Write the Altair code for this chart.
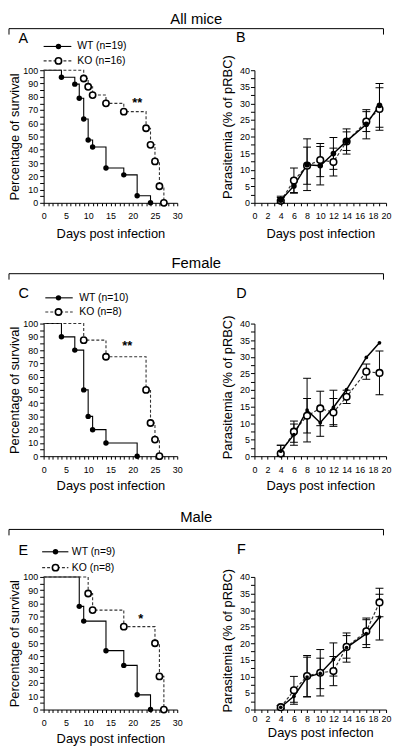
import altair as alt
import pandas as pd

FONT = "Liberation Sans"

# ---------------- Survival (Kaplan-Meier) data ----------------
A_WT_DAYS = [4, 7, 8, 9, 10, 11, 14, 18, 21, 24]
A_WT_SURV = [94.7, 89.5, 78.9, 63.2, 47.4, 42.1, 26.3, 21.1, 5.3, 0]
A_KO_DAYS = [9, 10, 11, 14, 18, 23, 24, 25, 26, 27]
A_KO_SURV = [93.75, 87.5, 81.25, 75, 68.75, 56.25, 43.75, 31.25, 12.5, 0]

C_WT_DAYS = [4, 7, 9, 10, 11, 14, 21]
C_WT_SURV = [90, 80, 50, 30, 20, 10, 0]
C_KO_DAYS = [9, 14, 23, 24, 25, 26]
C_KO_SURV = [87.5, 75, 50, 25, 12.5, 0]

E_WT_DAYS = [8, 9, 14, 18, 21, 24]
E_WT_SURV = [77.8, 66.7, 44.4, 33.3, 11.1, 0]
E_KO_DAYS = [10, 11, 18, 25, 26, 27]
E_KO_SURV = [87.5, 75, 62.5, 50, 25, 0]

A_LABELS = ["WT (n=19)", "KO (n=16)"]
C_LABELS = ["WT (n=10)", "KO (n=8)"]
E_LABELS = ["WT (n=9)", "KO (n=8)"]

# significance marks: text, day, percent
A_STAR = ["**", 21.0, 76.5]
C_STAR = ["**", 18.8, 84.5]
E_STAR = ["*", 21.8, 69.5]

# ---------------- Parasitemia data ----------------
PARA_DAYS = [4, 6, 8, 10, 12, 14, 17, 19]

B_WT_MEAN = [0.8, 5.1, 11.5, 11.2, 14.9, 18.6, 23.7, 29.4]
B_WT_SD = [1.2, 2.0, 7.8, 5.8, 4.8, 2.8, 4.4, 6.6]
B_KO_MEAN = [0.6, 6.7, 11.2, 12.9, 12.3, 18.5, 24.5, 28.3]
B_KO_SD = [1.0, 3.8, 5.6, 5.0, 4.2, 3.8, 3.0, 6.4]

D_WT_MEAN = [1.5, 6.5, 13.9, 10.1, 14.7, 20.1, 29.8, 34.2]
D_WT_SD = [1.8, 3.2, 9.6, 4.1, 5.2, 0, 0, 0]
D_KO_MEAN = [0.8, 7.4, 12.2, 14.4, 13.2, 17.9, 25.5, 25.1]
D_KO_SD = [2.5, 3.2, 5.2, 5.2, 4.2, 2.0, 2.3, 6.6]

F_WT_MEAN = [0.7, 4.0, 9.8, 10.9, 15.1, 18.7, 22.9, 27.9]
F_WT_SD = [0.5, 1.8, 6.0, 4.6, 5.0, 4.4, 4.2, 6.9]
F_KO_MEAN = [0.7, 5.8, 10.1, 11.1, 11.6, 18.9, 23.6, 32.3]
F_KO_SD = [0.5, 4.2, 6.2, 7.0, 4.4, 3.4, 4.0, 4.3]

HEADERS = ["All mice", "Female", "Male"]

SW, SH = 135, 134   # survival plot size
PW, PH = 133, 134   # parasitemia plot size
COL_GAP = 78
ROW_PITCH = 256     # nested flush rows have zero height, so spacing = row pitch


def one():
    return pd.DataFrame({"k": [0]})


def txt(s, x, y, size, align="left", baseline="alphabetic", weight="normal"):
    return alt.Chart(one()).mark_text(
        align=align, baseline=baseline, fontSize=size, font=FONT,
        fontWeight=weight, color="black"
    ).encode(x=alt.value(x), y=alt.value(y), text=alt.value(s))


def surv_axes(lab_pad, title_pad):
    x = alt.X("day:Q", scale=alt.Scale(domain=[0, 30], nice=False),
              axis=alt.Axis(values=list(range(0, 31)),
                            labelExpr="datum.value % 5 === 0 ? datum.label : ''",
                            title="Days post infection", tickSize=3,
                            labelPadding=lab_pad, titlePadding=title_pad,
                            labelFlush=False, labelOverlap=False))
    y = alt.Y("val:Q", scale=alt.Scale(domain=[0, 100], nice=False),
              axis=alt.Axis(values=list(range(0, 101, 5)),
                            labelExpr="datum.value % 10 === 0 ? datum.label : ''",
                            title="Percentage of survival", tickSize=4,
                            labelPadding=2, titlePadding=1,
                            labelFlush=False, labelOverlap=False))
    return x, y


def surv_panel(wt_days, wt_surv, ko_days, ko_surv, labels, star, letter,
               letter_y, header, header_y, bracket_y, legend_y, leg_x,
               lab_pad=6, title_pad=3):
    x, y = surv_axes(lab_pad, title_pad)
    wt = pd.DataFrame({"day": [0] + wt_days, "val": [100] + wt_surv})
    ko = pd.DataFrame({"day": [0] + ko_days, "val": [100] + ko_surv})
    wt_p = pd.DataFrame({"day": wt_days, "val": wt_surv})
    ko_p = pd.DataFrame({"day": ko_days, "val": ko_surv})
    st = pd.DataFrame({"day": [star[1]], "val": [star[2]], "t": [star[0]]})

    layers = [
        alt.Chart(wt).mark_line(interpolate="step-after", color="black",
                                strokeWidth=1.1).encode(x=x, y=y),
        alt.Chart(ko).mark_line(interpolate="step-after", color="#333333",
                                strokeWidth=1.1, strokeDash=[3, 2]).encode(x=x, y=y),
        alt.Chart(wt_p).mark_circle(color="black", size=30, opacity=1).encode(x=x, y=y),
        alt.Chart(ko_p).mark_circle(fill="white", stroke="black", strokeWidth=1.6,
                                    size=40, opacity=1).encode(x=x, y=y),
        alt.Chart(st).mark_text(fontSize=13, fontWeight="bold", font=FONT,
                                baseline="middle", dy=2).encode(x=x, y=y, text="t:N"),
    ]
    x0, x1, xm, xt = leg_x
    # legend
    layers += [
        alt.Chart(one()).mark_rule(color="black", strokeWidth=1.1).encode(
            x=alt.value(x0), x2=alt.value(x1), y=alt.value(legend_y[0])),
        alt.Chart(one()).mark_rule(color="#333333", strokeWidth=1.1, strokeDash=[3, 2]).encode(
            x=alt.value(x0), x2=alt.value(x1), y=alt.value(legend_y[1])),
        alt.Chart(one()).mark_circle(color="black", size=30, opacity=1).encode(
            x=alt.value(xm), y=alt.value(legend_y[0])),
        alt.Chart(one()).mark_circle(fill="white", stroke="black", strokeWidth=1.6,
                                     size=40, opacity=1).encode(
            x=alt.value(xm), y=alt.value(legend_y[1])),
        txt(labels[0], xt, legend_y[0], 10.5, baseline="middle"),
        txt(labels[1], xt, legend_y[1], 10.5, baseline="middle"),
    ]
    # panel letter
    layers.append(txt(letter, -25.3, letter_y, 14.5))
    # header and bracket
    bl, br = -35, 343.4
    layers += [
        txt(header, 154.2, header_y, 15, align="center"),
        alt.Chart(one()).mark_rule(color="black", strokeWidth=1).encode(
            x=alt.value(bl), x2=alt.value(br), y=alt.value(bracket_y)),
        alt.Chart(one()).mark_rule(color="black", strokeWidth=1).encode(
            x=alt.value(bl), y=alt.value(bracket_y), y2=alt.value(bracket_y + 6)),
        alt.Chart(one()).mark_rule(color="black", strokeWidth=1).encode(
            x=alt.value(br), y=alt.value(bracket_y), y2=alt.value(bracket_y + 6)),
    ]
    return alt.layer(*layers).properties(width=SW, height=SH)


def err_df(days, mean, sd):
    rows = [(d, max(m - s, 0), m + s) for d, m, s in zip(days, mean, sd) if s > 0]
    return pd.DataFrame(rows, columns=["day", "lo", "hi"])


def para_panel(wt_mean, wt_sd, ko_mean, ko_sd, wt_size, letter, letter_x,
               letter_y, xtitle, title_y, lab_pad=6, title_pad=3):
    xs = alt.Scale(domain=[0, 20], nice=False)
    ys = alt.Scale(domain=[0, 40], nice=False)
    x = alt.X("day:Q", scale=xs,
              axis=alt.Axis(values=list(range(0, 21)),
                            labelExpr="datum.value % 2 === 0 ? datum.label : ''",
                            title=xtitle, tickSize=3, labelPadding=lab_pad,
                            titlePadding=title_pad, labelFlush=False,
                            labelOverlap=False))
    yax = alt.Axis(values=[i * 2.5 for i in range(17)],
                   labelExpr="datum.value % 5 === 0 ? datum.label : ''",
                   title="Parasitemia (% of pRBC)", tickSize=4, labelPadding=1,
                   titlePadding=5, titleY=title_y, labelFlush=False,
                   labelOverlap=False)
    y = alt.Y("val:Q", scale=ys, axis=yax)
    ylo = alt.Y("lo:Q", scale=ys, axis=yax)
    yhi = alt.Y("hi:Q", scale=ys, axis=yax)

    wt = pd.DataFrame({"day": PARA_DAYS, "val": wt_mean})
    ko = pd.DataFrame({"day": PARA_DAYS, "val": ko_mean})
    err = pd.concat([err_df(PARA_DAYS, wt_mean, wt_sd),
                     err_df(PARA_DAYS, ko_mean, ko_sd)], ignore_index=True)

    layers = [
        alt.Chart(err).mark_rule(color="black", strokeWidth=1).encode(x=x, y=ylo, y2="hi:Q"),
        alt.Chart(err).mark_tick(orient="horizontal", color="black", size=8,
                                 thickness=1, opacity=1).encode(x=x, y=ylo),
        alt.Chart(err).mark_tick(orient="horizontal", color="black", size=8,
                                 thickness=1, opacity=1).encode(x=x, y=yhi),
        alt.Chart(ko).mark_line(color="#333333", strokeWidth=1.2,
                                strokeDash=[3, 2]).encode(x=x, y=y),
        alt.Chart(wt).mark_line(color="black", strokeWidth=1.5).encode(x=x, y=y),
        alt.Chart(ko).mark_circle(fill="white", stroke="black", strokeWidth=1.6,
                                  size=45, opacity=1).encode(x=x, y=y),
        alt.Chart(wt).mark_circle(color="black", size=wt_size, opacity=1).encode(x=x, y=y),
        txt(letter, letter_x, letter_y, 14.5),
    ]
    return alt.layer(*layers).properties(width=PW, height=PH)


A = surv_panel(A_WT_DAYS, A_WT_SURV, A_KO_DAYS, A_KO_SURV, A_LABELS, A_STAR,
               "A", -27.7, HEADERS[0], -47, -42, (-24, -9.4), (0, 28, 15, 34),
               title_pad=7)
B = para_panel(B_WT_MEAN, B_WT_SD, B_KO_MEAN, B_KO_SD, 32, "B", -18.7, -29,
               "Days post infection", 57, title_pad=7)

C = surv_panel(C_WT_DAYS, C_WT_SURV, C_KO_DAYS, C_KO_SURV, C_LABELS, C_STAR,
               "C", -26, HEADERS[1], -56, -50.4, (-26, -11.7), (1.7, 29.4, 15, 36),
               title_pad=6)
D = para_panel(D_WT_MEAN, D_WT_SD, D_KO_MEAN, D_KO_SD, 14, "D", -18.4, -26,
               "Days post infection", 64, title_pad=6)

E = surv_panel(E_WT_DAYS, E_WT_SURV, E_KO_DAYS, E_KO_SURV, E_LABELS, E_STAR,
               "E", -22, HEADERS[2], -55.4, -48, (-25.4, -9.4), (-1.5, 25, 12, 28.5),
               title_pad=5)
F = para_panel(F_WT_MEAN, F_WT_SD, F_KO_MEAN, F_KO_SD, 14, "F", -17.7, -23,
               "Days post infecton", 64, lab_pad=2, title_pad=3)

row1 = alt.hconcat(A, B, spacing=COL_GAP, bounds="flush")
row2 = alt.hconcat(C, D, spacing=COL_GAP, bounds="flush")
row3 = alt.hconcat(E, F, spacing=COL_GAP, bounds="flush")

chart = alt.vconcat(row1, row2, row3, spacing=ROW_PITCH, bounds="flush").properties(
    padding=0
).configure_view(stroke=None).configure_axis(
    labelFont=FONT, titleFont=FONT, labelFontSize=9, titleFontSize=13,
    titleFontWeight="normal", labelColor="black", titleColor="black",
    domainColor="black", tickColor="black", domainWidth=1, tickWidth=1,
    grid=False
)

chart.save("out.html", embed_options={"renderer": "svg", "actions": False})
